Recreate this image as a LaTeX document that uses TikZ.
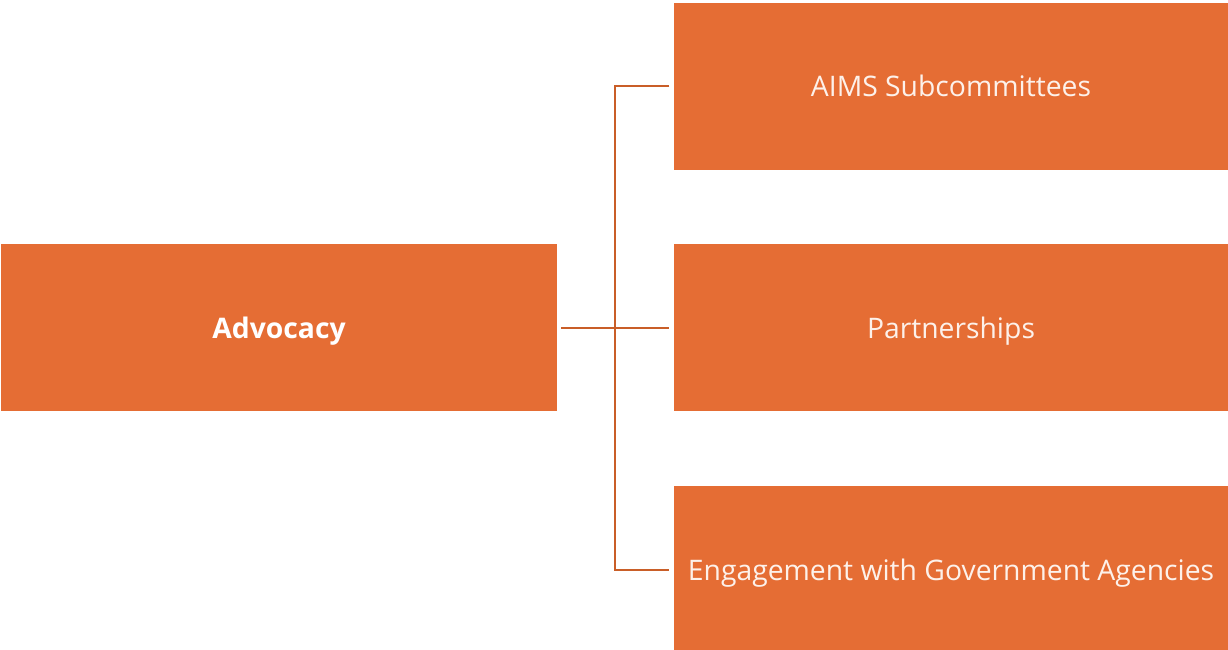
\documentclass[tikz,border=0pt]{standalone}
\usepackage{fontspec}
\setmainfont{Open Sans}
\definecolor{boxorange}{HTML}{E56D34}
\definecolor{lineorange}{HTML}{C95E28}
\definecolor{txtwhite}{HTML}{FDF1EA}
\begin{document}
\begin{tikzpicture}[x=1pt,y=-1pt,
  orgbox/.style={draw=none,fill=boxorange,minimum width=555pt,minimum height=167pt,inner sep=0pt,text height=24pt,text depth=3pt,text=txtwhite,font=\fontsize{28.3}{32}\selectfont},
  conn/.style={draw=lineorange,line width=2pt,shorten <=4pt,shorten >=4pt}]
\useasboundingbox (0,0) rectangle (1228,650);
\clip (0,0) rectangle (1228,650);
\fill[white] (0,0) rectangle (1228,650);
\node[orgbox,minimum width=556pt,font=\fontsize{28.3}{32}\selectfont\bfseries,text=white] (adv) at (279,327.5) {Advocacy};
\node[orgbox] (b1) at (951,86.5) {AIMS Subcommittees};
\node[orgbox] (b2) at (951,327.5) {Partnerships};
\node[orgbox] (b3) at (951,569.5) {Engagement with Government Agencies};
\coordinate (trunk) at (615,0);
\draw[conn] (adv.east) -- (b2.west);
\draw[conn,line join=miter] (b1.west) -- (b1.west -| trunk) -- (b3.west -| trunk) -- (b3.west);
\end{tikzpicture}
\end{document}
